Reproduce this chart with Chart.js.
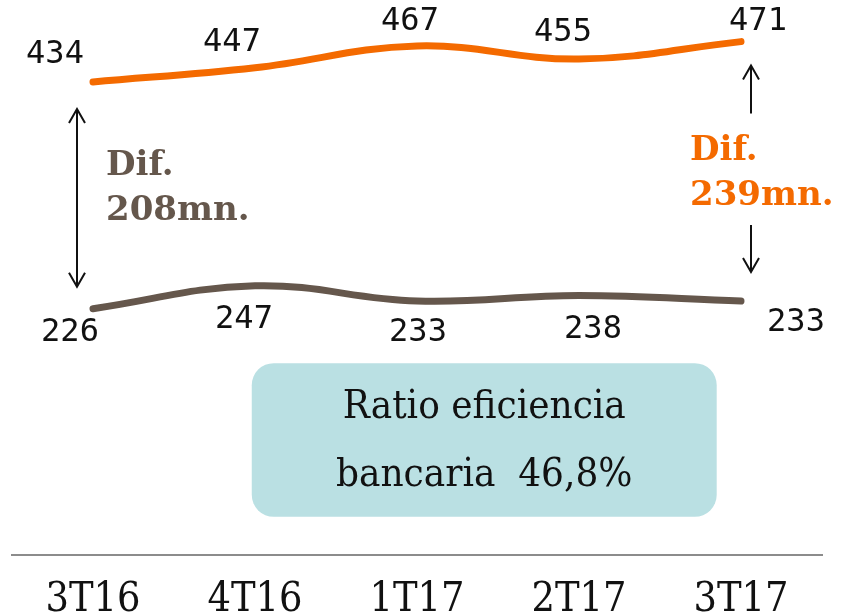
<!DOCTYPE html>
<html>
<head>
<meta charset="utf-8">
<script src="https://cdn.jsdelivr.net/npm/chart.js@4.4.1/dist/chart.umd.min.js"></script>
<style>
  html, body { margin: 0; padding: 0; background: #fff; }
  #wrap { width: 844px; height: 616px; }
</style>
</head>
<body>
<div id="wrap"><canvas id="chart" width="844" height="616"></canvas></div>
<script>
// Data
const quarters = ['3T16', '4T16', '1T17', '2T17', '3T17'];
const seriesTop = [434, 447, 467, 455, 471];
const seriesBottom = [226, 247, 233, 238, 233];
const difLeft = ['Dif.', '208mn.'];
const difRight = ['Dif.', '239mn.'];
const boxLines = ['Ratio eficiencia', 'bancaria  46,8%'];

// Colours
const ORANGE = '#F46A00';
const BROWN = '#65574C';
const BOX_FILL = '#BAE0E3';

// label offsets from each point (dx, dy)
const topLabelOffsets = [[-38, -27], [-23, -25], [-7, -24], [-16, -26], [17, -20]];
const bottomLabelOffsets = [[-23, 24], [-11, 34], [1, 32], [14, 34], [55, 22]];

const LABEL_FONT = '32px "DejaVu Sans Mono", monospace';
const DIF_FONT = 'bold 34px "DejaVu Serif", serif';
const BOX_FONT = '40px "DejaVu Serif Condensed", "DejaVu Serif", serif';

function drawArrowHead(ctx, x, y, dir) {
    // dir: -1 points up, 1 points down
    ctx.beginPath();
    ctx.moveTo(x - 8, y - dir * 14);
    ctx.lineTo(x, y);
    ctx.lineTo(x + 8, y - dir * 14);
    ctx.stroke();
}

const overlayPlugin = {
    id: 'overlay',
    beforeDatasetsDraw(chart) {
        const ctx = chart.ctx;
        const xs = chart.scales.x;
        const ys = chart.scales.y;
        // efficiency ratio box
        const bx1 = xs.getPixelForValue(0.98);
        const bx2 = xs.getPixelForValue(3.85);
        const by1 = ys.getPixelForValue(176);
        const by2 = ys.getPixelForValue(35);
        ctx.save();
        ctx.fillStyle = BOX_FILL;
        ctx.beginPath();
        ctx.roundRect(bx1, by1, bx2 - bx1, by2 - by1, 22);
        ctx.fill();
        ctx.fillStyle = '#111';
        ctx.font = BOX_FONT;
        ctx.textAlign = 'center';
        ctx.textBaseline = 'middle';
        const cx = (bx1 + bx2) / 2;
        ctx.fillText(boxLines[0], cx, by1 + 44);
        ctx.fillText(boxLines[1], cx, by1 + 112);
        ctx.restore();
    },
    afterDatasetsDraw(chart) {
        const ctx = chart.ctx;
        const topPts = chart.getDatasetMeta(0).data;
        const botPts = chart.getDatasetMeta(1).data;
        ctx.save();
        // value labels
        ctx.font = LABEL_FONT;
        ctx.fillStyle = '#111';
        ctx.textAlign = 'center';
        ctx.textBaseline = 'middle';
        topPts.forEach((p, i) => {
            const o = topLabelOffsets[i];
            ctx.fillText(String(seriesTop[i]), p.x + o[0], p.y + o[1]);
        });
        botPts.forEach((p, i) => {
            const o = bottomLabelOffsets[i];
            ctx.fillText(String(seriesBottom[i]), p.x + o[0], p.y + o[1]);
        });

        // left double arrow
        ctx.strokeStyle = '#111';
        ctx.lineWidth = 2;
        const lx = topPts[0].x - 16;
        const ly1 = topPts[0].y + 27;
        const ly2 = botPts[0].y - 22;
        ctx.beginPath();
        ctx.moveTo(lx, ly1);
        ctx.lineTo(lx, ly2);
        ctx.stroke();
        drawArrowHead(ctx, lx, ly1, -1);
        drawArrowHead(ctx, lx, ly2, 1);

        // left difference text
        ctx.font = DIF_FONT;
        ctx.fillStyle = BROWN;
        ctx.textAlign = 'left';
        ctx.textBaseline = 'alphabetic';
        ctx.fillText(difLeft[0], lx + 29, 175);
        ctx.fillText(difLeft[1], lx + 29, 220);

        // right arrows
        const n = topPts.length - 1;
        const rx = topPts[n].x + 10;
        const ry1 = topPts[n].y + 24;
        const ry2 = botPts[n].y - 29;
        ctx.beginPath();
        ctx.moveTo(rx, ry1);
        ctx.lineTo(rx, ry1 + 48);
        ctx.moveTo(rx, ry2);
        ctx.lineTo(rx, ry2 - 47);
        ctx.stroke();
        drawArrowHead(ctx, rx, ry1, -1);
        drawArrowHead(ctx, rx, ry2, 1);

        ctx.fillStyle = ORANGE;
        ctx.fillText(difRight[0], rx - 61, 160);
        ctx.fillText(difRight[1], rx - 61, 205);
        ctx.restore();
    }
};

const ctx = document.getElementById('chart').getContext('2d');
new Chart(ctx, {
    type: 'line',
    data: {
        labels: quarters,
        datasets: [
            {
                data: seriesTop,
                borderColor: ORANGE,
                borderWidth: 7,
                borderCapStyle: 'round',
                tension: 0.4,
                pointRadius: 0
            },
            {
                data: seriesBottom,
                borderColor: BROWN,
                borderWidth: 7,
                borderCapStyle: 'round',
                tension: 0.4,
                pointRadius: 0
            }
        ]
    },
    options: {
        responsive: false,
        animation: false,
        layout: { padding: { left: 12, right: 22, top: 10, bottom: 0 } },
        plugins: {
            legend: { display: false },
            tooltip: { enabled: false }
        },
        scales: {
            x: {
                offset: true,
                grid: { display: false, drawTicks: false },
                border: { display: true, color: '#8c8c8c', width: 2 },
                ticks: {
                    color: '#111',
                    padding: 21,
                    font: { family: '"DejaVu Serif Condensed", "DejaVu Serif", serif', size: 41 }
                },
                // fixed axis band so the labels sit low like the original
                afterFit(scale) { scale.height = 61; }
            },
            y: {
                display: false,
                min: 0,
                max: 500
            }
        }
    },
    plugins: [overlayPlugin]
});
</script>
</body>
</html>
